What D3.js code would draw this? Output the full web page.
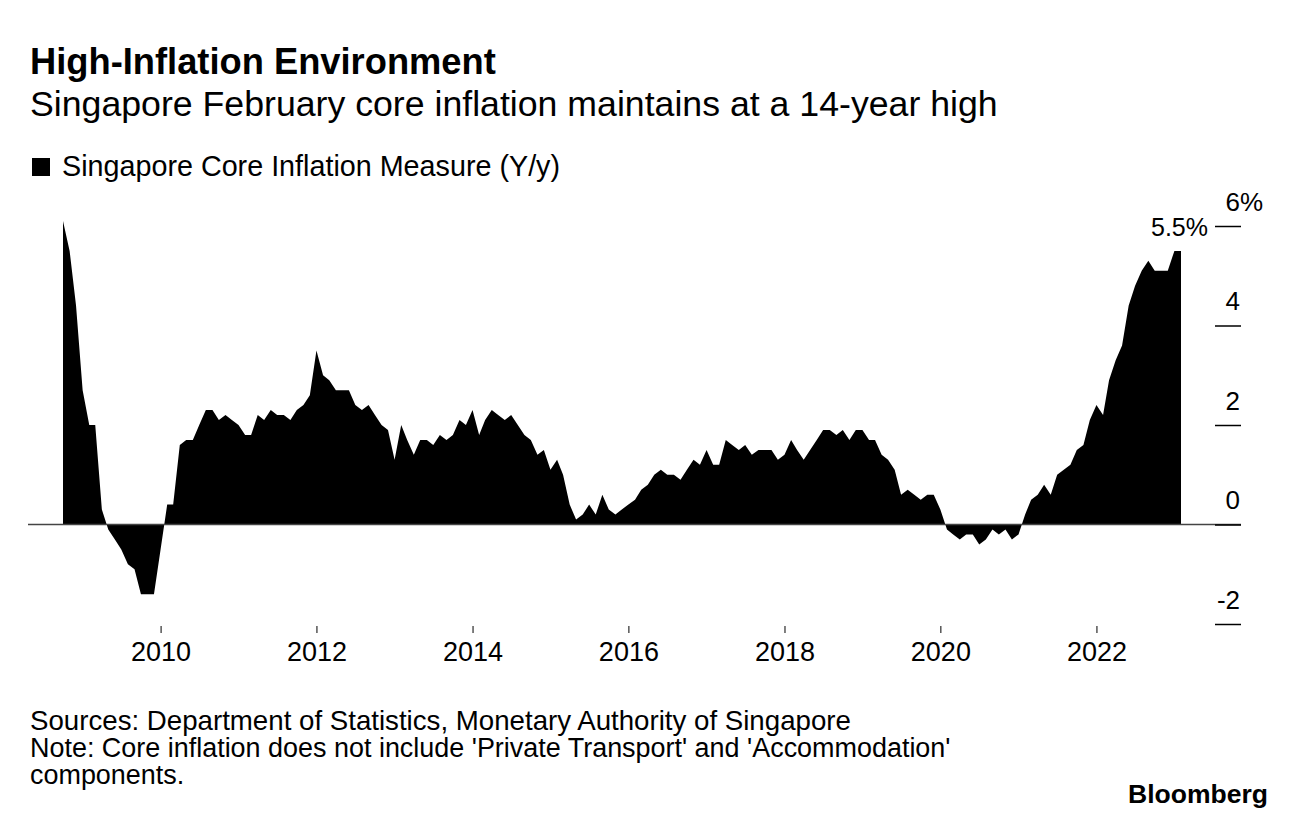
<!DOCTYPE html>
<html>
<head>
<meta charset="utf-8">
<script src="https://cdn.jsdelivr.net/npm/d3@7"></script>
<style>
  html, body { margin: 0; padding: 0; background: #fff; }
  svg { display: block; }
  text { font-family: "Liberation Sans", Arial, Helvetica, sans-serif; fill: #000; }
</style>
</head>
<body>
<svg id="chart" width="1296" height="820"></svg>
<script>
// ---------------- DATA ----------------
const startMonth = "2008-10";   // first observation
const coreInflation = [
  6.1, 5.5, 4.4,                                                  // 2008 Oct-Dec
  2.7, 2.0, 2.0, 0.3, -0.1, -0.3, -0.5, -0.8, -0.9, -1.4, -1.4, -1.4, // 2009
  -0.5, 0.4, 0.4, 1.6, 1.7, 1.7, 2.0, 2.3, 2.3, 2.1, 2.2, 2.1,        // 2010
  2.0, 1.8, 1.8, 2.2, 2.1, 2.3, 2.2, 2.2, 2.1, 2.3, 2.4, 2.6,         // 2011
  3.5, 3.0, 2.9, 2.7, 2.7, 2.7, 2.4, 2.3, 2.4, 2.2, 2.0, 1.9,         // 2012
  1.3, 2.0, 1.7, 1.4, 1.7, 1.7, 1.6, 1.8, 1.7, 1.8, 2.1, 2.0,         // 2013
  2.3, 1.8, 2.1, 2.3, 2.2, 2.1, 2.2, 2.0, 1.8, 1.7, 1.4, 1.5,         // 2014
  1.1, 1.3, 1.0, 0.4, 0.1, 0.2, 0.4, 0.2, 0.6, 0.3, 0.2, 0.3,         // 2015
  0.4, 0.5, 0.7, 0.8, 1.0, 1.1, 1.0, 1.0, 0.9, 1.1, 1.3, 1.2,         // 2016
  1.5, 1.2, 1.2, 1.7, 1.6, 1.5, 1.6, 1.4, 1.5, 1.5, 1.5, 1.3,         // 2017
  1.4, 1.7, 1.5, 1.3, 1.5, 1.7, 1.9, 1.9, 1.8, 1.9, 1.7, 1.9,         // 2018
  1.9, 1.7, 1.7, 1.4, 1.3, 1.1, 0.6, 0.7, 0.6, 0.5, 0.6, 0.6,         // 2019
  0.3, -0.1, -0.2, -0.3, -0.2, -0.2, -0.4, -0.3, -0.1, -0.2, -0.1, -0.3, // 2020
  -0.2, 0.2, 0.5, 0.6, 0.8, 0.6, 1.0, 1.1, 1.2, 1.5, 1.6, 2.1,       // 2021
  2.4, 2.2, 2.9, 3.3, 3.6, 4.4, 4.8, 5.1, 5.3, 5.1, 5.1, 5.1,         // 2022
  5.5, 5.5                                                         // 2023 Jan-Feb
];
const yTicks = [-2, 0, 2, 4, 6];
const xTickYears = [2010, 2012, 2014, 2016, 2018, 2020, 2022];
const titleText = "High-Inflation Environment";
const subtitleText = "Singapore February core inflation maintains at a 14-year high";
const legendText = "Singapore Core Inflation Measure (Y/y)";
const sourceLines = [
  "Sources: Department of Statistics, Monetary Authority of Singapore",
  "Note: Core inflation does not include 'Private Transport' and 'Accommodation'",
  "components."
];
const lastLabel = "5.5%";

// ---------------- BUILD ----------------
const parseMonth = d3.timeParse("%Y-%m");
const t0 = parseMonth(startMonth);
const series = coreInflation.map((v, i) => ({ date: d3.timeMonth.offset(t0, i), value: v }));

const svg = d3.select("#chart");

const x = d3.scaleTime()
  .domain([series[0].date, series[series.length - 1].date])
  .range([63, 1181]);
const y = d3.scaleLinear().domain([0, 6]).range([524.5, 226]);

// helper: fit text to a target width
function fit(sel, targetW, baseSize) {
  sel.style("font-size", baseSize + "px");
  const w = sel.node().getComputedTextLength();
  sel.style("font-size", (baseSize * targetW / w).toFixed(2) + "px");
  return sel;
}

// Title / subtitle
fit(svg.append("text").attr("x", 30).attr("y", 74).style("font-weight", "bold").text(titleText), 466, 32);
fit(svg.append("text").attr("x", 30).attr("y", 116).text(subtitleText), 968, 31);

// Legend
svg.append("rect").attr("x", 32).attr("y", 158).attr("width", 18).attr("height", 18).attr("fill", "#000");
fit(svg.append("text").attr("x", 62).attr("y", 176).text(legendText), 498, 25);

// Area
const area = d3.area()
  .x(d => x(d.date))
  .y0(y(0))
  .y1(d => y(d.value))
  .curve(d3.curveLinear);
svg.append("path").datum(series).attr("d", area).attr("fill", "#000");

// Zero baseline
svg.append("line")
  .attr("x1", 28).attr("x2", 1241)
  .attr("y1", y(0)).attr("y2", y(0))
  .attr("stroke", "#444").attr("stroke-width", 1.5);

// Y axis (right side: tick dashes with labels above)
const yAxis = d3.axisRight(y).tickValues(yTicks).tickSize(0).tickFormat("");
const yg = svg.append("g").attr("transform", "translate(1215,0)").call(yAxis);
yg.select(".domain").remove();
yg.selectAll(".tick").append("line")
  .attr("x1", 0).attr("x2", 26).attr("stroke", "#000").attr("stroke-width", 1.5);
yg.selectAll(".tick").append("text")
  .attr("x", 25).attr("y", -16)
  .attr("text-anchor", "end")
  .style("font-size", "26px")
  .text(d => d);
yg.selectAll(".tick").filter(d => d === 6).append("text")
  .attr("x", 25).attr("y", -16)
  .attr("text-anchor", "start")
  .style("font-size", "26px")
  .text("%");

// Last value label
const last = series[series.length - 1];
svg.append("text")
  .attr("x", 1208).attr("y", y(last.value) - 15)
  .attr("text-anchor", "end")
  .style("font-size", "25px")
  .text(lastLabel);

// X axis
const xAxis = d3.axisBottom(x)
  .tickValues(xTickYears.map(yr => new Date(yr, 0, 1)))
  .tickSize(7)
  .tickFormat(d3.timeFormat("%Y"));
const xg = svg.append("g").attr("transform", "translate(0,626)").call(xAxis);
xg.select(".domain").remove();
xg.selectAll(".tick line").attr("stroke", "#000").attr("stroke-width", 1);
xg.selectAll(".tick text")
  .attr("y", 16).attr("dy", "0.71em")
  .style("font-size", "27px")
  .style("font-family", "'Liberation Sans', Arial, sans-serif")
  .attr("fill", "#000");

// Footer
const footerBase = [730, 757, 784];
const footerW = [821, 921, null];
sourceLines.forEach((s, i) => {
  const t = svg.append("text").attr("x", 30).attr("y", footerBase[i]).style("font-size", "22px").text(s);
  if (footerW[i]) fit(t, footerW[i], 22);
});
// keep last footer line at same size as the note line
svg.selectAll("text").filter(function() { return this.textContent === sourceLines[2]; })
  .style("font-size", svg.selectAll("text").filter(function() { return this.textContent === sourceLines[1]; }).style("font-size"));

// Bloomberg logo text
fit(svg.append("text").attr("x", 1268).attr("y", 803).attr("text-anchor", "end")
  .style("font-weight", "bold").text("Bloomberg"), 140, 24);
</script>
</body>
</html>
